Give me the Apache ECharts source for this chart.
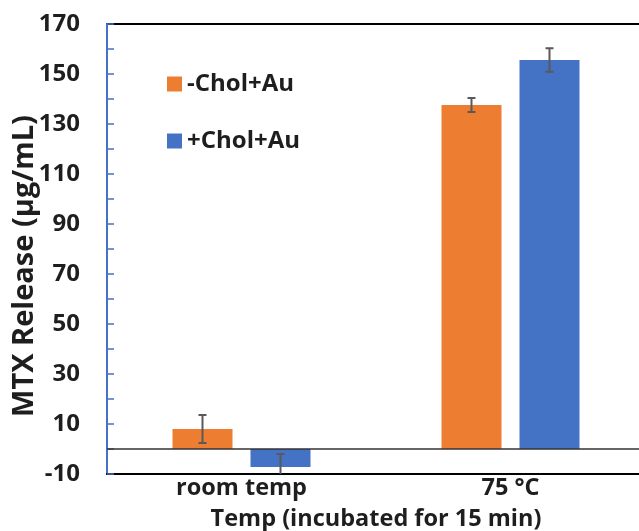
<!DOCTYPE html>
<html><head><meta charset="utf-8">
<script src="https://cdn.jsdelivr.net/npm/echarts@6/dist/echarts.min.js"></script>
<style>html,body{margin:0;padding:0;background:#fff}#c{width:639px;height:531px}</style>
</head><body><div id="c"></div>
<script>
const categories = ['room temp', '75 °C'];
const seriesNames = ['-Chol+Au', '+Chol+Au'];
const cholMinus = [8.0, 137.6];
const cholPlus = [-7.2, 155.6];
const errMinus = [5.6, 2.8];
const errPlus = [5.2, 4.7];
const yTickLabels = [-10, 10, 30, 50, 70, 90, 110, 130, 150, 170];
const yTitle = 'MTX Release (µg/mL)';
const xTitle = 'Temp (incubated for 15 min)';

const FONT = 'Open Sans';
const TXT = '#1e1e1e';
const ORANGE = '#ED7D31', BLUE = '#4472C4';
const BAR_W = 60, BAR_GAP = 0.3;
const offs = [-(BAR_W * (1 + BAR_GAP)) / 2, (BAR_W * (1 + BAR_GAP)) / 2];

function errData(vals, errs, k) {
  return vals.map((v, i) => [i, v - errs[i], v + errs[i], k]);
}
function renderErr(params, api) {
  const i = api.value(0), lo = api.value(1), hi = api.value(2), k = api.value(3);
  const pLo = api.coord([i, lo]), pHi = api.coord([i, hi]);
  const x = pLo[0] + offs[k];
  const cap = 4;
  const st = { stroke: '#595959', lineWidth: 2 };
  return { type: 'group', children: [
    { type: 'line', shape: { x1: x, y1: pLo[1], x2: x, y2: pHi[1] }, style: st },
    { type: 'line', shape: { x1: x - cap, y1: pLo[1], x2: x + cap, y2: pLo[1] }, style: st },
    { type: 'line', shape: { x1: x - cap, y1: pHi[1], x2: x + cap, y2: pHi[1] }, style: st }
  ]};
}

const chart = echarts.init(document.getElementById('c'), null, { renderer: 'canvas' });
chart.setOption({
  animation: false,
  backgroundColor: '#fff',
  textStyle: { fontFamily: FONT },
  grid: { left: 107, top: 24, width: 538, height: 450, containLabel: false, outerBoundsMode: 'none',
    show: true, borderColor: '#000', borderWidth: 2, backgroundColor: 'transparent' },
  graphic: [{
    type: 'text', x: 25, y: 266, rotation: Math.PI / 2,
    style: { text: yTitle, fill: TXT, font: 'bold 29px "Open Sans"', align: 'center', verticalAlign: 'middle' }
  }],
  legend: {
    orient: 'vertical', left: 162, top: 67, itemWidth: 15, itemHeight: 15, itemGap: 33,
    icon: 'rect',
    textStyle: { fontFamily: FONT, fontWeight: 'bold', fontSize: 24, color: TXT, lineHeight: 22 },
    data: seriesNames
  },
  xAxis: {
    type: 'category', data: categories,
    axisLine: { onZero: false, lineStyle: { color: '#000', width: 2 } },
    axisTick: { show: false },
    axisLabel: { fontFamily: FONT, fontWeight: 'bold', fontSize: 23.5, color: TXT, margin: 2 },
    name: xTitle, nameLocation: 'middle', nameGap: 33,
    nameTextStyle: { fontFamily: FONT, fontWeight: 'bold', fontSize: 23.5, color: TXT }
  },
  yAxis: {
    type: 'value', min: -10, max: 170, interval: 10,
    splitLine: { show: false },
    axisLine: { show: true, lineStyle: { color: '#4472C4', width: 2 } },
    axisTick: { show: true, inside: true, length: 7, lineStyle: { color: '#4472C4', width: 1.5 } },
    axisLabel: {
      fontFamily: FONT, fontWeight: 'bold', fontSize: 24, color: TXT, margin: 27,
      formatter: v => yTickLabels.includes(v) ? String(v) : ''
    }
  },
  series: [
    { name: seriesNames[0], type: 'bar', data: cholMinus, barWidth: BAR_W, barGap: (BAR_GAP * 100) + '%',
      itemStyle: { color: ORANGE },
      markLine: { silent: true, symbol: ['none', 'none'], label: { show: false },
        lineStyle: { color: '#333', width: 1.5, type: 'solid' }, data: [{ yAxis: 0 }] } },
    { name: seriesNames[1], type: 'bar', data: cholPlus, barWidth: BAR_W, itemStyle: { color: BLUE } },
    { type: 'custom', renderItem: renderErr, data: errData(cholMinus, errMinus, 0), clip: true, z: 5, silent: true },
    { type: 'custom', renderItem: renderErr, data: errData(cholPlus, errPlus, 1), clip: true, z: 5, silent: true }
  ]
});
</script></body></html>
